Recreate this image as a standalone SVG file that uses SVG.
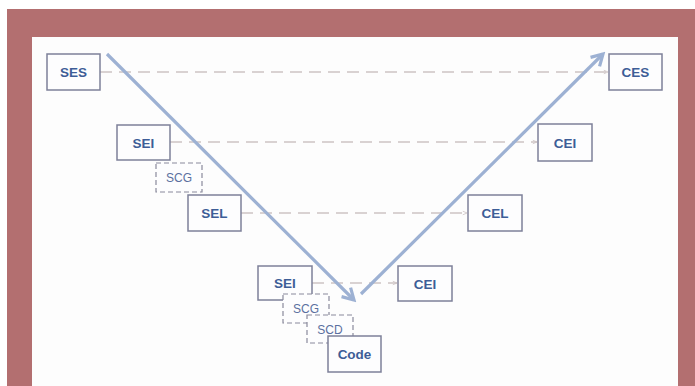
<svg xmlns="http://www.w3.org/2000/svg" width="695" height="386" viewBox="0 0 695 386">
<style>
.box{fill:#fdfdfe;stroke:#7d8099;stroke-width:1.5}
.dbox{fill:#fdfdfe;stroke:#8a8a9c;stroke-width:1.2;stroke-dasharray:5 3}
.lbl{font-family:"Liberation Sans",Arial,sans-serif;font-weight:bold;font-size:13.5px;fill:#3d5d97;text-anchor:middle}
.sl{font-family:"Liberation Sans",Arial,sans-serif;font-size:12px;fill:#5b70a0;text-anchor:middle}
.h{stroke:#cdc3c4;stroke-width:1.3;stroke-dasharray:12 7;fill:none}
.v{stroke:#9db1d3;stroke-width:3.2;fill:none;marker-end:url(#big)}
</style>
<defs>
<marker id="big" viewBox="0 0 10 10" refX="8" refY="5" markerWidth="5" markerHeight="5" orient="auto" markerUnits="strokeWidth">
<polyline points="1,1 8,5 1,9" fill="none" stroke="#9db1d3" stroke-width="2"/>
</marker>
<marker id="sm" viewBox="0 0 10 10" refX="9" refY="5" markerWidth="6" markerHeight="6" orient="auto" markerUnits="userSpaceOnUse">
<polyline points="2,2 9,5 2,8" fill="none" stroke="#cdc3c4" stroke-width="1.3"/>
</marker>
</defs>
<rect x="0" y="0" width="695" height="386" fill="#ffffff"/>
<rect x="7" y="9" width="688" height="377" fill="#b36f70"/>
<rect x="32" y="37" width="646" height="349" fill="#fdfdfd"/>
<g id="connectors">
<line class="h" x1="100" y1="72" x2="608" y2="72" marker-end="url(#sm)"/>
<line class="h" x1="170" y1="142" x2="537" y2="142" marker-end="url(#sm)"/>
<line class="h" x1="241" y1="213" x2="467" y2="213" marker-end="url(#sm)"/>
<line class="h" x1="312" y1="283" x2="397" y2="283" marker-end="url(#sm)"/>
<line class="v" x1="107" y1="54" x2="354" y2="300"/>
<line class="v" x1="361" y1="294" x2="603" y2="54"/>
</g>
<g id="SES"><rect class="box" x="47" y="54" width="53" height="36"/><text class="lbl" x="73.5" y="77">SES</text></g>
<g id="SEI1"><rect class="box" x="117" y="125" width="53" height="35"/><text class="lbl" x="143.5" y="147.5">SEI</text></g>
<g id="SCG1"><rect class="dbox" x="156" y="163" width="46" height="29"/><text class="sl" x="179" y="182">SCG</text></g>
<g id="SEL"><rect class="box" x="188" y="195" width="53" height="36"/><text class="lbl" x="214.5" y="218">SEL</text></g>
<g id="SEI2"><rect class="box" x="258" y="266" width="54" height="34"/><text class="lbl" x="285" y="288">SEI</text></g>
<g id="SCG2"><rect class="dbox" x="283" y="294" width="46" height="29"/><text class="sl" x="306" y="313">SCG</text></g>
<g id="SCD"><rect class="dbox" x="307" y="315" width="46" height="28"/><text class="sl" x="330" y="333.5">SCD</text></g>
<g id="Code"><rect class="box" x="328" y="336" width="53" height="36"/><text class="lbl" x="354.5" y="359">Code</text></g>
<g id="CEI2"><rect class="box" x="398" y="266" width="54" height="35"/><text class="lbl" x="425" y="288.5">CEI</text></g>
<g id="CEL"><rect class="box" x="468" y="195" width="54" height="36"/><text class="lbl" x="495" y="218">CEL</text></g>
<g id="CEI1"><rect class="box" x="538" y="124" width="54" height="37"/><text class="lbl" x="565" y="147.5">CEI</text></g>
<g id="CES"><rect class="box" x="609" y="54" width="53" height="36"/><text class="lbl" x="635.5" y="77">CES</text></g>
</svg>
